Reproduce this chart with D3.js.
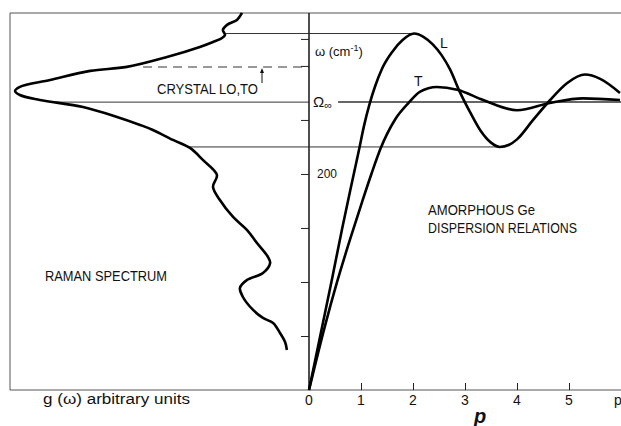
<!DOCTYPE html>
<html>
<head>
<meta charset="utf-8">
<script src="https://cdn.jsdelivr.net/npm/d3@7"></script>
<style>
	body { margin: 0; background: #fff; }
	svg { display: block; }
	text { font-family: "Liberation Sans", "DejaVu Sans", sans-serif; fill: #111; }
</style>
</head>
<body>
<div id="chart"></div>
<script>
// Raman spectrum g(omega), omega in cm-1 against arbitrary units
var ramanOmega = [349.1, 342.6, 338.0, 333.3, 328.7, 325.9, 322.2, 317.6, 308.3, 299.1, 295.4, 287.0,
	280.6, 276.9, 273.1, 268.5, 262.0, 252.8, 245.4, 240.7, 231.5, 224.1, 213.0, 199.1, 188.0, 175.9,
	160.2, 148.1, 136.1, 123.1, 117.6, 108.3, 101.9, 94.4, 86.1, 74.1, 66.7, 62.0, 52.8, 44.4, 37.0];
var ramanG = [0.224, 0.241, 0.274, 0.288, 0.281, 0.291, 0.321, 0.365, 0.475, 0.609, 0.732, 0.866,
	0.967, 0.983, 0.967, 0.900, 0.756, 0.642, 0.565, 0.522, 0.455, 0.398, 0.355, 0.308, 0.321, 0.298,
	0.254, 0.207, 0.174, 0.137, 0.130, 0.154, 0.207, 0.231, 0.221, 0.187, 0.154, 0.120, 0.097, 0.080, 0.074];

// dispersion relations
var longP = [0, 0.44, 0.64, 0.83, 0.96, 1.06, 1.16, 1.27, 1.4, 1.6, 1.8, 2.02, 2.2, 2.38, 2.55, 2.71,
	2.9, 3.1, 3.3, 3.5, 3.67, 3.85, 4.0, 4.31, 4.63, 4.96, 5.31, 5.6, 5.98];
var longOmega = [0, 102, 150, 193, 222, 245, 264, 281, 297, 313, 324, 330, 327, 320, 310, 297,
	276, 257, 240, 229, 225, 227, 232, 250, 268, 284, 292, 288, 275];
var transP = [0, 0.3, 0.54, 0.78, 1.02, 1.2, 1.38, 1.65, 1.92, 2.13, 2.46, 2.85, 3.35, 4.0, 4.63, 5.27, 5.98];
var transOmega = [0, 58, 100, 138, 174, 200, 224, 250, 266, 276, 280.5, 278, 268.5, 259, 265.7, 270, 268.5];

// reference levels
var lMax = 330, crystal = 299, omegaInf = 266.5, lMin = 225;

var omegaTicks = [50, 100, 150, 200, 250, 300, 325];
var pTicks = [1, 2, 3, 4, 5];
var pTickLabels = ["0", "1", "2", "3", "4", "5", "p"];

var width = 621, height = 426;
var svg = d3.select("#chart").append("svg")
	.attr("width", width)
	.attr("height", height);

var y = d3.scaleLinear().domain([0, 349]).range([390, 13]);
var x = d3.scaleLinear().domain([0, 6]).range([309, 621]);
var g = d3.scaleLinear().domain([0, 1]).range([309, 10]);

var ramanData = ramanOmega.map(function (w, i) { return { w: w, g: ramanG[i] }; });
var longData = longP.map(function (p, i) { return { p: p, w: longOmega[i] }; });
var transData = transP.map(function (p, i) { return { p: p, w: transOmega[i] }; });

// spectrum value at a given omega, read from the data by straight interpolation
function gAt (w) {
	for (var i = 0; i < ramanData.length - 1; i++) {
		var a = ramanData[i], b = ramanData[i + 1];
		if ((w <= a.w && w >= b.w)) {
			return a.g + (b.g - a.g) * (w - a.w) / (b.w - a.w);
		}
	}
	return 0;
}

// frame
var frame = svg.append("g").attr("stroke", "#555").attr("stroke-width", 1).attr("fill", "none");
frame.append("line").attr("x1", g(1)).attr("x2", g(1)).attr("y1", y(349)).attr("y2", y(0));
frame.append("line").attr("x1", g(1)).attr("x2", width).attr("y1", y(349)).attr("y2", y(349));
frame.append("line").attr("x1", g(1)).attr("x2", width).attr("y1", y(0)).attr("y2", y(0));

// reference lines
var ref = svg.append("g").attr("stroke", "#333").attr("stroke-width", 1).attr("fill", "none");
ref.append("line").attr("x1", g(gAt(lMax))).attr("x2", x(2.02)).attr("y1", y(lMax)).attr("y2", y(lMax));
ref.append("line").attr("x1", g(0.555)).attr("x2", x(0)).attr("y1", y(crystal)).attr("y2", y(crystal))
	.attr("stroke-dasharray", "9,6");
ref.append("line").attr("x1", g(gAt(omegaInf))).attr("x2", x(0)).attr("y1", y(omegaInf)).attr("y2", y(omegaInf));
ref.append("line").attr("x1", x(0.56)).attr("x2", width).attr("y1", y(omegaInf)).attr("y2", y(omegaInf))
	.attr("stroke-width", 1.5);
ref.append("line").attr("x1", g(gAt(lMin))).attr("x2", x(3.67)).attr("y1", y(lMin)).attr("y2", y(lMin));

// middle omega axis
var yAxis = d3.axisLeft(y).tickValues(omegaTicks).tickSize(8).tickFormat("");
var yAxisG = svg.append("g").attr("transform", "translate(" + x(0) + ",0)").call(yAxis);
yAxisG.select(".domain").attr("d", "M0," + y(349) + "V" + y(0)).attr("stroke", "#222").attr("stroke-width", 1.6);
yAxisG.selectAll(".tick line").attr("stroke", "#222");

// p axis
var xAxis = d3.axisTop(x).tickValues(pTicks).tickSize(7).tickFormat("");
var xAxisG = svg.append("g").attr("transform", "translate(0," + y(0) + ")").call(xAxis);
xAxisG.select(".domain").remove();
xAxisG.selectAll(".tick line").attr("stroke", "#222");

svg.selectAll(".p-label")
	.data(pTickLabels)
	.enter().append("text")
	.attr("class", "p-label")
	.attr("x", function (d, i) { return x(i) - (i === 6 ? 3 : 0); })
	.attr("y", 405)
	.attr("text-anchor", "middle")
	.attr("font-size", 14)
	.text(function (d) { return d; });

// curves
var spectrumLine = d3.line()
	.x(function (d) { return g(d.g); })
	.y(function (d) { return y(d.w); })
	.curve(d3.curveCatmullRom.alpha(0.5));
var dispLine = d3.line()
	.x(function (d) { return x(d.p); })
	.y(function (d) { return y(d.w); })
	.curve(d3.curveMonotoneX);

svg.append("path").datum(ramanData).attr("d", spectrumLine)
	.attr("fill", "none").attr("stroke", "#000").attr("stroke-width", 2.6).attr("stroke-linejoin", "round");
svg.append("path").datum(longData).attr("d", dispLine)
	.attr("fill", "none").attr("stroke", "#000").attr("stroke-width", 2.6);
svg.append("path").datum(transData).attr("d", dispLine)
	.attr("fill", "none").attr("stroke", "#000").attr("stroke-width", 2.6);

// arrow to the crystal line
var arrowX = 262;
svg.append("line").attr("x1", arrowX).attr("x2", arrowX).attr("y1", y(crystal) + 16).attr("y2", y(crystal) + 3)
	.attr("stroke", "#111").attr("stroke-width", 1);
svg.append("path")
	.attr("d", "M" + arrowX + "," + (y(crystal) + 1) + " l-2,5 h4 z")
	.attr("fill", "#111");

// labels
function label (txt, px, py, size, len) {
	var t = svg.append("text").attr("x", px).attr("y", py).attr("font-size", size).text(txt);
	if (len) t.attr("textLength", len).attr("lengthAdjust", "spacingAndGlyphs");
	return t;
}
label("CRYSTAL LO,TO", 157, 94, 14, 101);
label("RAMAN SPECTRUM", 45, 281, 14, 122);
label("AMORPHOUS Ge", 428, 215, 14, 107);
label("DISPERSION RELATIONS", 428, 233, 14, 149);
label("g (ω) arbitrary units", 43, 404, 14, 147);
label("200", 317, 178, 13, 20);
label("L", 440, 48, 14);
label("T", 414, 86, 14);

var wl = svg.append("text").attr("x", 315).attr("y", 56).attr("font-size", 13);
wl.append("tspan").text("ω (cm");
wl.append("tspan").attr("font-size", 9).attr("dy", -5).text("-1");
wl.append("tspan").attr("dy", 5).text(")");

var om = svg.append("text").attr("x", 313).attr("y", 107).attr("font-size", 15);
om.append("tspan").text("Ω");
om.append("tspan").attr("font-size", 11).attr("dy", 2).text("∞");

svg.append("text").attr("x", 480).attr("y", 423).attr("text-anchor", "middle")
	.attr("font-size", 20).attr("font-weight", "bold").attr("font-style", "italic")
	.text("p");
</script>
</body>
</html>
